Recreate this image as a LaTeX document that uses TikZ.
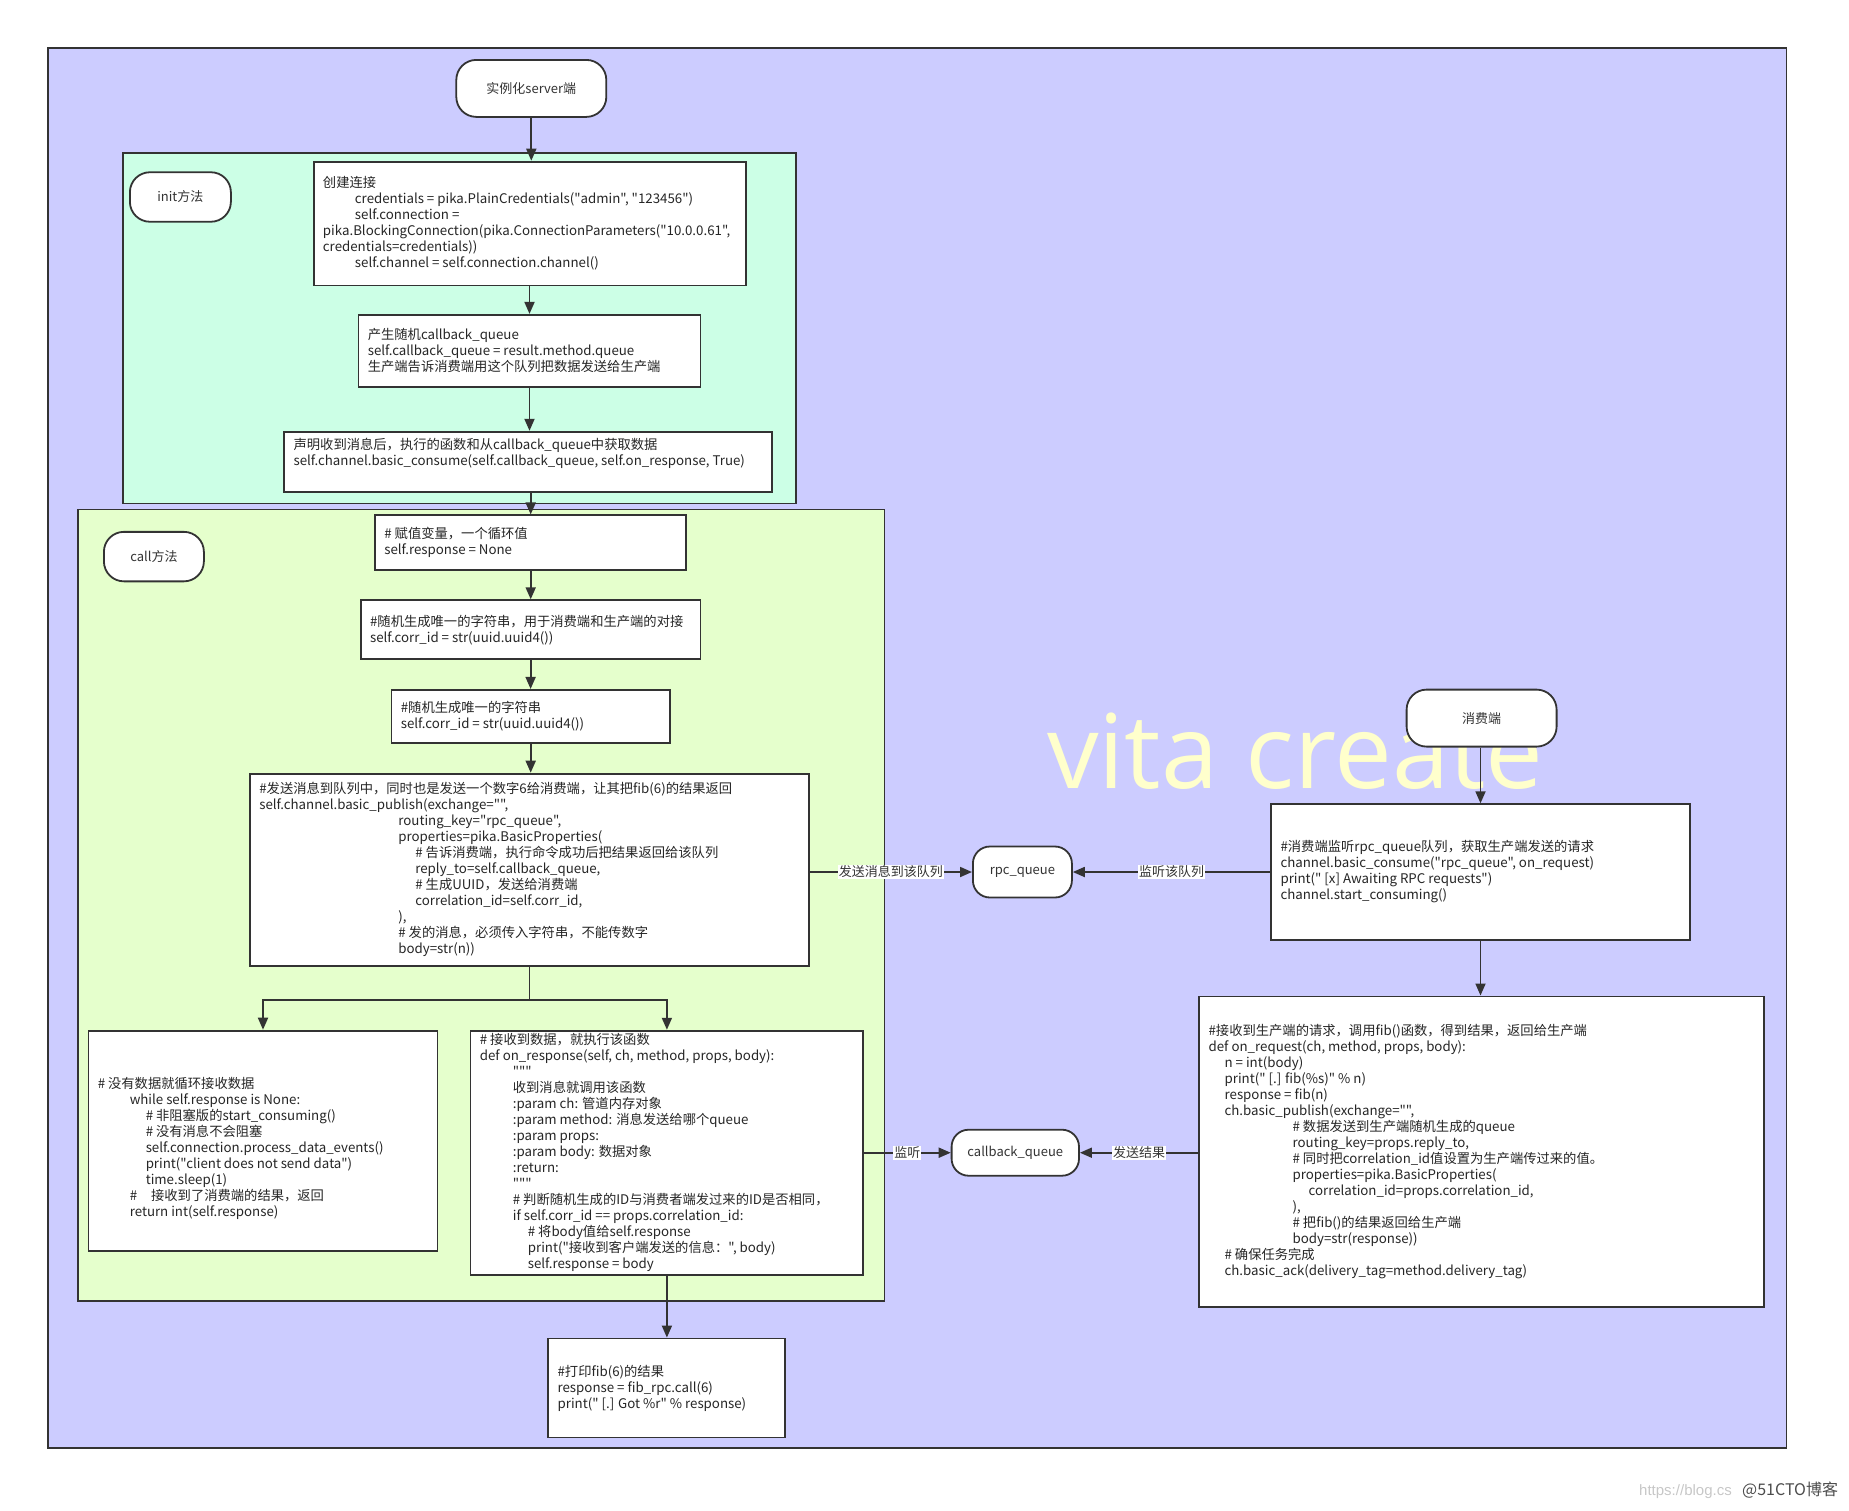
\documentclass[tikz,border=0pt]{standalone}
\usepackage{fontspec}
\newfontfamily\cjk{Noto Sans CJK SC}
\newfontfamily\wmfont{Open Sans}
\newfontfamily\urlfont{Liberation Sans}
\usetikzlibrary{arrows.meta,calc}
\definecolor{lav}{HTML}{CCCCFF}
\definecolor{mint}{HTML}{CCFFE6}
\definecolor{lgreen}{HTML}{E5FFCC}
\definecolor{ln}{HTML}{333333}
\definecolor{wmy}{HTML}{FFFFCC}
\newcommand\myind[1]{\hspace*{#1pt}}
\tikzset{
 frame/.style={draw=ln,line width=1.8pt},
 box/.style={draw=ln,line width=1.8pt,fill=white,rectangle,inner sep=0pt},
 term/.style={draw=ln,line width=1.8pt,fill=white,rounded corners=20pt,inner sep=0pt,font=\cjk\fontsize{13}{16}\selectfont,text=ln},
 code/.style={inner sep=0pt,align=left,anchor=west,font=\cjk\fontsize{13.3}{16}\selectfont,text=black!85},
 arr/.style={draw=ln,line width=1.8pt,-{Triangle[length=12pt,width=10pt]}},
 lbl/.style={fill=white,inner sep=1pt,font=\cjk\fontsize{13}{15}\selectfont,text=ln},
}
\begin{document}
\begin{tikzpicture}[x=1pt,y=-1pt]
\useasboundingbox (0,0) rectangle (1849,1510);
% backgrounds
\draw[frame,fill=lav] (48.3,48.3) rectangle (1786.5,1448);
\draw[frame,fill=mint] (122.6,153.3) rectangle (796,503.5);
\draw[frame,fill=lgreen] (77.8,509.4) rectangle (884.4,1300.7);
% watermark
\node[anchor=base west,inner sep=0pt,font=\wmfont\fontsize{103}{110}\selectfont,text=wmy] (wm) at (1047,788) {vita create};
% terminals
\node[term,minimum width=150pt,minimum height=57pt] (srv) at (531.3,88.4) {实例化server端};
\node[term,minimum width=101pt,minimum height=49.5pt] (init) at (180.4,197) {init方法};
\node[term,minimum width=100pt,minimum height=49.5pt] (call) at (153.9,556.6) {call方法};
\node[term,rounded corners=17pt,minimum width=99pt,minimum height=51pt] (rpc) at (1022.4,872) {rpc\_queue};
\node[term,rounded corners=17pt,minimum width=127.4pt,minimum height=46pt] (cbq) at (1015.3,1152.7) {callback\_queue};
\node[term,minimum width=150pt,minimum height=57pt] (cons) at (1481.6,718.1) {消费端};
% boxes
\node[box,minimum width=432.7pt,minimum height=123.8pt] (b1) at (530,223.5) {};
\node[box,minimum width=342pt,minimum height=72pt] (b2) at (529.5,350.8) {};
\node[box,minimum width=488pt,minimum height=60pt] (b3) at (528.3,461.7) {};
\node[box,minimum width=311.3pt,minimum height=54.3pt] (b4) at (530.7,542.5) {};
\node[box,minimum width=339.6pt,minimum height=59pt] (b5) at (530.6,629.7) {};
\node[box,minimum width=278.3pt,minimum height=53.1pt] (b6) at (530.7,716.4) {};
\node[box,minimum width=558.9pt,minimum height=192.2pt] (b7) at (529.5,869.7) {};
\node[box,minimum width=349.1pt,minimum height=220.6pt] (b8) at (263,1140.9) {};
\node[box,minimum width=392.7pt,minimum height=244.1pt] (b9) at (666.9,1152.7) {};
\node[box,minimum width=237pt,minimum height=99.1pt] (b10) at (666.8,1388) {};
\node[box,minimum width=418.6pt,minimum height=135.6pt] (cb) at (1480.5,872) {};
\node[box,minimum width=564.8pt,minimum height=310.2pt] (orq) at (1481.7,1151.5) {};
% texts
\node[code] (b1t) at ($(b1.west)+(10,0)$) {创建连接\\
\myind{32}credentials = pika.PlainCredentials("admin", "123456")\\
\myind{32}self.connection =\\
pika.BlockingConnection(pika.ConnectionParameters("10.0.0.61",\\
credentials=credentials))\\
\myind{32}self.channel = self.connection.channel()};
\node[code] (b2t) at ($(b2.west)+(10,0)$) {产生随机callback\_queue\\
self.callback\_queue = result.method.queue\\
生产端告诉消费端用这个队列把数据发送给生产端};
\node[code] (b3t) at ($(b3.west)+(10,-8)$) {声明收到消息后，执行的函数和从callback\_queue中获取数据\\
self.channel.basic\_consume(self.callback\_queue, self.on\_response, True)};
\node[code] (b4t) at ($(b4.west)+(10,0)$) {\# 赋值变量，一个循环值\\
self.response = None};
\node[code] (b5t) at ($(b5.west)+(10,0)$) {\#随机生成唯一的字符串，用于消费端和生产端的对接\\
self.corr\_id = str(uuid.uuid4())};
\node[code] (b6t) at ($(b6.west)+(10,0)$) {\#随机生成唯一的字符串\\
self.corr\_id = str(uuid.uuid4())};
\node[code] (b7t) at ($(b7.west)+(10,0)$) {\#发送消息到队列中，同时也是发送一个数字6给消费端，让其把fib(6)的结果返回\\
self.channel.basic\_publish(exchange="",\\
\myind{139}routing\_key="rpc\_queue",\\
\myind{139}properties=pika.BasicProperties(\\
\myind{156}\# 告诉消费端，执行命令成功后把结果返回给该队列\\
\myind{156}reply\_to=self.callback\_queue,\\
\myind{156}\# 生成UUID，发送给消费端\\
\myind{156}correlation\_id=self.corr\_id,\\
\myind{139}),\\
\myind{139}\# 发的消息，必须传入字符串，不能传数字\\
\myind{139}body=str(n))};
\node[code] (b8t) at ($(b8.west)+(10,8)$) {\# 没有数据就循环接收数据\\
\myind{32}while self.response is None:\\
\myind{48}\# 非阻塞版的start\_consuming()\\
\myind{48}\# 没有消息不会阻塞\\
\myind{48}self.connection.process\_data\_events()\\
\myind{48}print("client does not send data")\\
\myind{48}time.sleep(1)\\
\myind{32}\#\myind{14}接收到了消费端的结果，返回\\
\myind{32}return int(self.response)};
\node[code] (b9t) at ($(b9.west)+(10,0)$) {\# 接收到数据，就执行该函数\\
def on\_response(self, ch, method, props, body):\\
\myind{33}"""\\
\myind{33}收到消息就调用该函数\\
\myind{33}:param ch: 管道内存对象\\
\myind{33}:param method: 消息发送给哪个queue\\
\myind{33}:param props:\\
\myind{33}:param body: 数据对象\\
\myind{33}:return:\\
\myind{33}"""\\
\myind{33}\# 判断随机生成的ID与消费者端发过来的ID是否相同，\\
\myind{33}if self.corr\_id == props.correlation\_id:\\
\myind{48}\# 将body值给self.response\\
\myind{48}print("接收到客户端发送的信息：", body)\\
\myind{48}self.response = body};
\node[code] (b10t) at ($(b10.west)+(10,0)$) {\#打印fib(6)的结果\\
response = fib\_rpc.call(6)\\
print(" [.] Got \%r" \% response)};
\node[code] (cbt) at ($(cb.west)+(10,0)$) {\#消费端监听rpc\_queue队列，获取生产端发送的请求\\
channel.basic\_consume("rpc\_queue", on\_request)\\
print(" [x] Awaiting RPC requests")\\
channel.start\_consuming()};
\node[code] (orqt) at ($(orq.west)+(10,0)$) {\#接收到生产端的请求，调用fib()函数，得到结果，返回给生产端\\
def on\_request(ch, method, props, body):\\
\myind{16}n = int(body)\\
\myind{16}print(" [.] fib(\%s)" \% n)\\
\myind{16}response = fib(n)\\
\myind{16}ch.basic\_publish(exchange="",\\
\myind{84}\# 数据发送到生产端随机生成的queue\\
\myind{84}routing\_key=props.reply\_to,\\
\myind{84}\# 同时把correlation\_id值设置为生产端传过来的值。\\
\myind{84}properties=pika.BasicProperties(\\
\myind{100}correlation\_id=props.correlation\_id,\\
\myind{84}),\\
\myind{84}\# 把fib()的结果返回给生产端\\
\myind{84}body=str(response))\\
\myind{16}\# 确保任务完成\\
\myind{16}ch.basic\_ack(delivery\_tag=method.delivery\_tag)};
% connectors
\draw[arr] (srv.south) -- (srv.south |- b1.north);
\draw[arr] (b2.north |- b1.south) -- (b2.north);
\draw[arr] (b2.south) -- (b2.south |- b3.north);
\draw[arr] (b3.south -| b4.north) -- (b4.north);
\draw[arr] (b4.south) -- (b4.south |- b5.north);
\draw[arr] (b5.south) -- (b5.south |- b6.north);
\draw[arr] (b6.south) -- (b6.south |- b7.north);
\draw[draw=ln,line width=1.8pt] (b7.south) -- ++(0,33) coordinate (fork);
\draw[arr] (fork) -| (b8.north);
\draw[arr] (fork) -| (b9.north);
\draw[arr] (b9.south) -- (b9.south |- b10.north);
\draw[arr] (cons.south -| cb.north) -- (cb.north);
\draw[arr] (cb.south) -- (cb.south |- orq.north);
\draw[arr] (b7.east |- rpc.west) -- node[lbl] {发送消息到该队列} (rpc.west);
\draw[arr] (cb.west |- rpc.east) -- node[lbl] {监听该队列} (rpc.east);
\draw[arr] (b9.east |- cbq.west) -- node[lbl] {监听} (cbq.west);
\draw[arr] (orq.west |- cbq.east) -- node[lbl] {发送结果} (cbq.east);
% site watermark
\node[anchor=base west,inner sep=0pt,font=\urlfont\fontsize{15}{15}\selectfont,text=black!22] (url) at (1639,1495) {https://blog.cs};
\node[anchor=base west,inner sep=0pt,font=\cjk\fontsize{16}{16}\selectfont,text=black!70] (site) at (1742,1495) {@51CTO博客};
\end{tikzpicture}
\end{document}
